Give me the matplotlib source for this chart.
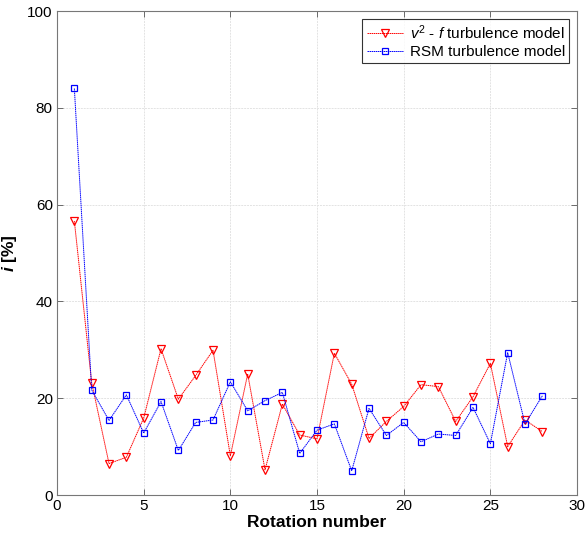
import matplotlib
matplotlib.use("Agg")
import matplotlib.pyplot as plt

plt.rcParams['font.family'] = ['Liberation Sans', 'DejaVu Sans']
plt.rcParams['mathtext.fontset'] = 'custom'
plt.rcParams['mathtext.it'] = 'Liberation Sans:italic'
plt.rcParams['mathtext.rm'] = 'Liberation Sans'
plt.rcParams['mathtext.bf'] = 'Liberation Sans:bold:italic'

rotation = list(range(1, 29))
v2f_values = [56.6, 23.2, 6.5, 7.8, 15.9, 30.2, 19.8, 24.7, 29.9, 8.1,
              25.0, 5.2, 18.8, 12.4, 11.6, 29.3, 22.9, 11.7, 15.2, 18.3,
              22.8, 22.4, 15.2, 20.3, 27.2, 10.0, 15.5, 13.1]
rsm_values = [84.0, 21.7, 15.4, 20.7, 12.8, 19.3, 9.2, 15.0, 15.5, 23.4,
              17.4, 19.5, 21.2, 8.6, 13.4, 14.7, 5.0, 17.9, 12.3, 15.0,
              11.0, 12.6, 12.3, 18.1, 10.6, 29.4, 14.7, 20.5]
series_labels = [r'$v^2$ - $f$ turbulence model', 'RSM turbulence model']
x_ticks = [0, 5, 10, 15, 20, 25, 30]
y_ticks = [0, 20, 40, 60, 80, 100]

fig = plt.figure(figsize=(5.86, 5.40), dpi=100)
ax = fig.add_axes([0.0973, 0.0833, 0.8874, 0.8963])

ax.plot(rotation, v2f_values, color='#ff0000', linestyle=(0, (1.5, 0.6)),
        linewidth=0.7, marker='v', markersize=5.5, markerfacecolor='none',
        markeredgecolor='#ff0000', markeredgewidth=0.9, label=series_labels[0])
ax.plot(rotation, rsm_values, color='#0000ff', linestyle=(0, (1.5, 0.6)),
        linewidth=0.7, marker='s', markersize=4.5, markerfacecolor='none',
        markeredgecolor='#0000ff', markeredgewidth=0.9, label=series_labels[1])

ax.set_xlim(0, 30)
ax.set_ylim(0, 100)
ax.set_xticks(x_ticks)
ax.set_yticks(y_ticks)
ax.grid(True, color='#e3e3e3', linestyle=(0, (2, 1)), linewidth=0.7)
ax.set_axisbelow(True)
ax.tick_params(direction='in', top=True, right=True, length=4, width=0.6,
               color='#555555', labelsize=11, pad=3)
for sp in ax.spines.values():
    sp.set_color('#777777')
    sp.set_linewidth(0.8)

ax.set_xlabel('Rotation number', fontsize=12.5, fontweight='bold', labelpad=1)
ax.set_ylabel(r'$\mathbf{i}$ [%]', fontsize=12.5, fontweight='bold', labelpad=6)

leg = ax.legend(loc='upper right', fontsize=11, frameon=True, fancybox=False,
                edgecolor='black', borderpad=0.3, labelspacing=0.2,
                handlelength=2.4, handletextpad=0.4, borderaxespad=0.5)
leg.get_frame().set_linewidth(0.8)

fig.savefig('out.png', dpi=100)
